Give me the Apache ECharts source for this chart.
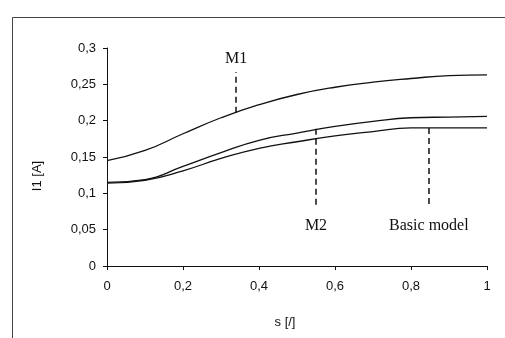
<!DOCTYPE html>
<html>
<head>
<meta charset="utf-8">
<script src="https://cdn.jsdelivr.net/npm/echarts@6/dist/echarts.min.js"></script>
<style>
  html, body { margin: 0; padding: 0; background: #fff; }
  #chart { width: 505px; height: 338px; }
</style>
</head>
<body>
<div id="chart"></div>
<script>
// slip s [/]
const sValues = [0, 0.1, 0.2, 0.3, 0.4, 0.5, 0.6, 0.7, 0.8, 0.9, 1.0];
// current I1 [A]
const m1 = [0.145, 0.159, 0.182, 0.204, 0.222, 0.236, 0.246, 0.253, 0.258, 0.262, 0.263];
const m2 = [0.115, 0.119, 0.137, 0.156, 0.173, 0.183, 0.192, 0.199, 0.204, 0.205, 0.206];
const basicModel = [0.114, 0.118, 0.131, 0.148, 0.162, 0.171, 0.179, 0.185, 0.190, 0.190, 0.190];

// dashed pointer lines: s position, from value, to value, label
const pointers = [
  { s: 0.34, from: 0.211, to: 0.267, text: "M1" },
  { s: 0.55, from: 0.189, to: 0.081, text: "M2" },
  { s: 0.847, from: 0.190, to: 0.081, text: "Basic model" },
];

const comma = (v) => String(v).replace(".", ",");
const pairs = (arr) => sValues.map((s, i) => [s, arr[i]]);

const chart = echarts.init(document.getElementById("chart"));

const lineSeries = (data, p) => ({
  type: "line",
  data: pairs(data),
  smooth: true,
  symbol: "none",
  lineStyle: { color: "#111", width: 1.3 },
  silent: true,
  markLine: {
    symbol: "none",
    silent: true,
    lineStyle: { color: "#111", type: [6, 4], width: 1.5 },
    label: {
      show: true,
      position: "end",
      // labels below the line sit a bit further away
      distance: p.to < p.from ? 11 : 5,
      formatter: p.text,
      color: "#111",
      fontFamily: "Liberation Serif",
      fontSize: 16,
    },
    data: [[
      { coord: [p.s, p.from] },
      { coord: [p.s, p.to] },
    ]],
  },
});

chart.setOption({
  animation: false,
  backgroundColor: "#fff",
  grid: { left: 107, right: 18, top: 48, bottom: 72 },
  xAxis: {
    type: "value",
    min: 0,
    max: 1,
    interval: 0.2,
    axisLine: { lineStyle: { color: "#111", width: 1 } },
    axisTick: { length: 4, lineStyle: { color: "#111" } },
    splitLine: { show: false },
    axisLabel: {
      formatter: comma,
      color: "#111",
      fontFamily: "Liberation Sans",
      fontSize: 13,
      margin: 14,
    },
  },
  yAxis: {
    type: "value",
    min: 0,
    max: 0.3,
    interval: 0.05,
    axisLine: { show: true, lineStyle: { color: "#111", width: 1 } },
    axisTick: { show: true, length: 4, lineStyle: { color: "#111" } },
    splitLine: { show: false },
    axisLabel: {
      formatter: (v) => comma(+v.toFixed(2)),
      color: "#111",
      fontFamily: "Liberation Sans",
      fontSize: 13,
      margin: 11,
    },
  },
  graphic: [
    {
      type: "rect",
      left: 10,
      top: 15,
      shape: { width: 520, height: 322 },
      style: { fill: "none", stroke: "#444", lineWidth: 1 },
      silent: true,
    },
    {
      type: "text",
      x: 37,
      y: 176,
      rotation: Math.PI / 2,
      style: {
        text: "I1 [A]",
        fill: "#111",
        font: "13px 'Liberation Sans'",
        align: "center",
        verticalAlign: "middle",
      },
    },
    {
      type: "text",
      x: 285,
      y: 322,
      style: {
        text: "s [/]",
        fill: "#111",
        font: "13px 'Liberation Sans'",
        align: "center",
        verticalAlign: "middle",
      },
    },
  ],
  series: [
    lineSeries(m1, pointers[0]),
    lineSeries(m2, pointers[1]),
    lineSeries(basicModel, pointers[2]),
  ],
});
</script>
</body>
</html>
